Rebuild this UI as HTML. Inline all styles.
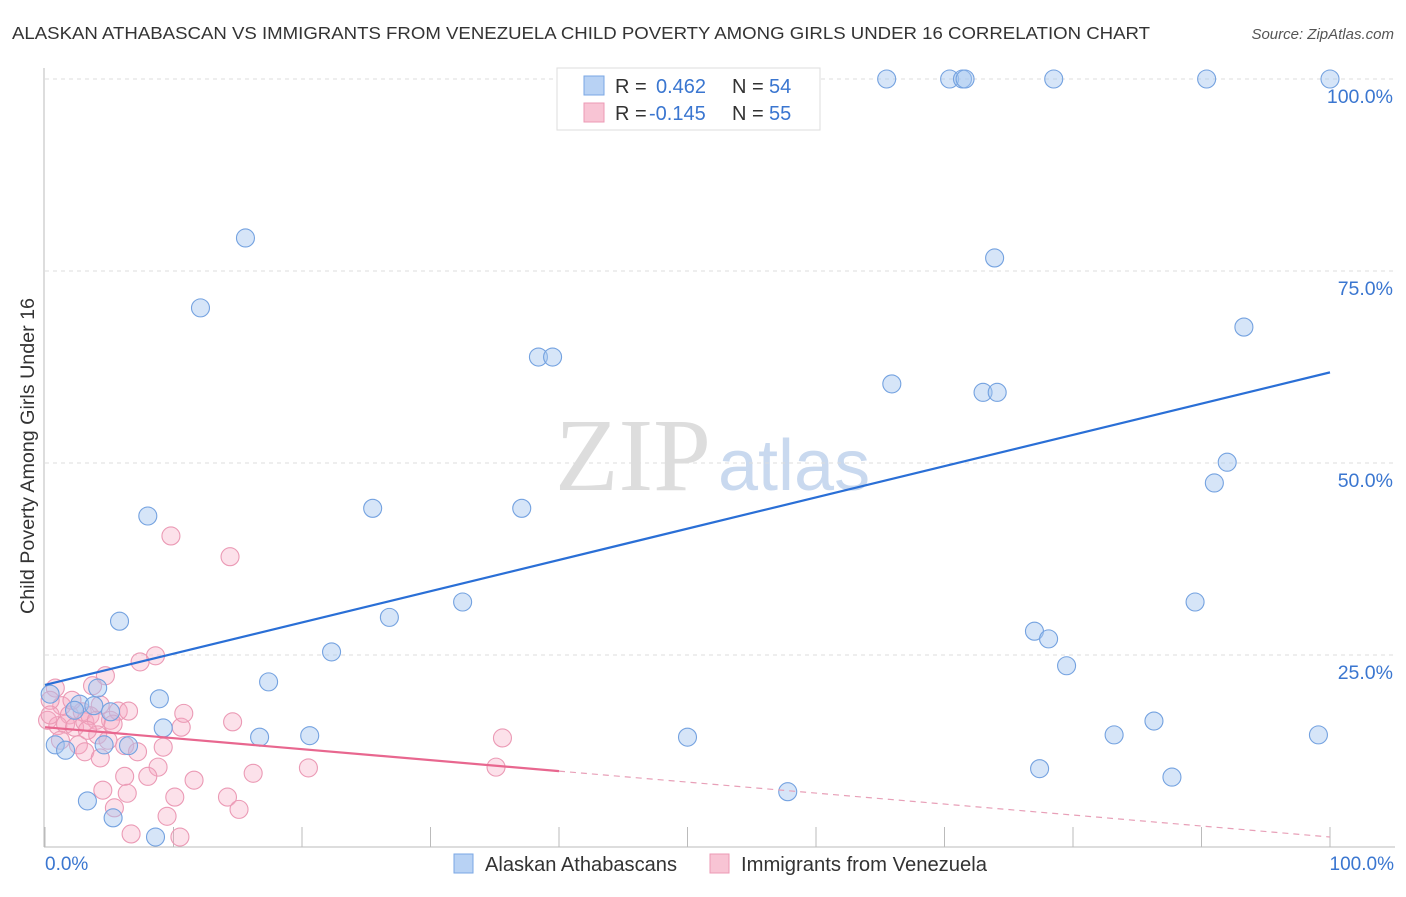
<!DOCTYPE html>
<html><head><meta charset="utf-8"><style>
body{margin:0;background:#fff;font-family:"Liberation Sans",sans-serif;}
</style></head><body>
<svg width="1406" height="892" viewBox="0 0 1406 892" xmlns="http://www.w3.org/2000/svg">
<text x="12" y="39" font-size="17.5" fill="#333" textLength="1138" lengthAdjust="spacingAndGlyphs">ALASKAN ATHABASCAN VS IMMIGRANTS FROM VENEZUELA CHILD POVERTY AMONG GIRLS UNDER 16 CORRELATION CHART</text>
<text x="1394" y="39" font-size="15" fill="#555" font-style="italic" text-anchor="end">Source: ZipAtlas.com</text>
<text x="555" y="490" font-size="104" fill="#ddd" font-family="Liberation Serif,serif">ZIP</text>
<text x="718" y="490" font-size="72" fill="#c9d9ef">atlas</text>
<g id="grid"></g>
<g id="axes"></g>
<g id="pts"></g>
<g id="trend"></g>
<text transform="translate(34,456) rotate(-90)" font-size="19" fill="#333" text-anchor="middle" textLength="316" lengthAdjust="spacingAndGlyphs">Child Poverty Among Girls Under 16</text>
<g>
<rect x="557" y="68" width="263" height="62" fill="#fff" stroke="#ddd"/>
<rect x="584" y="76" width="20" height="19" fill="#b8d2f4" stroke="#7aa7e4"/>
<rect x="584" y="103" width="20" height="19" fill="#f8c4d4" stroke="#ec9ab5"/>
<text x="615" y="93" font-size="20" fill="#333">R = </text><text x="656" y="93" font-size="20" fill="#3a76d0">0.462</text>
<text x="732" y="93" font-size="20" fill="#333">N = </text><text x="769" y="93" font-size="20" fill="#3a76d0">54</text>
<text x="615" y="120" font-size="20" fill="#333">R = </text><text x="649" y="120" font-size="20" fill="#3a76d0">-0.145</text>
<text x="732" y="120" font-size="20" fill="#333">N = </text><text x="769" y="120" font-size="20" fill="#3a76d0">55</text>
</g>
<g>
<rect x="454" y="854" width="19" height="19" fill="#b8d2f4" stroke="#7aa7e4"/>
<text x="485" y="871" font-size="20" fill="#333" textLength="192" lengthAdjust="spacingAndGlyphs">Alaskan Athabascans</text>
<rect x="710" y="854" width="19" height="19" fill="#f8c4d4" stroke="#ec9ab5"/>
<text x="741" y="871" font-size="20" fill="#333" textLength="246" lengthAdjust="spacingAndGlyphs">Immigrants from Venezuela</text>
</g>
<text x="45" y="870" font-size="19" fill="#3a76d0">0.0%</text>
<text x="1394" y="870" font-size="19" fill="#3a76d0" text-anchor="end">100.0%</text>
<script>
const blueX=[65.5,70.4,71.4,71.6,78.5,90.4,100,15.6,73.9,12.1,93.3,38.4,39.5,65.9,73.0,74.1,92.0,91.0,8.0,25.5,37.1,32.5,89.5,5.8,26.8,77.0,78.1,22.3,79.5,17.4,8.9,4.1,2.7,3.8,0.4,9.2,16.7,20.6,50.0,86.3,83.2,99.1,77.4,87.7,57.8,0.8,1.6,4.6,6.5,3.3,5.3,8.6,2.3,5.1];
const blueY=[100,100,100,100,100,100,100,79.3,76.7,70.2,67.7,63.8,63.8,60.3,59.2,59.2,50.1,47.4,43.1,44.1,44.1,31.9,31.9,29.4,29.9,28.1,27.1,25.4,23.6,21.5,19.3,20.7,18.6,18.4,19.9,15.5,14.3,14.5,14.3,16.4,14.6,14.6,10.2,9.1,7.2,13.3,12.6,13.3,13.2,6.0,3.8,1.3,17.8,17.6];
const pinkX=[9.8,14.4,8.6,7.4,0.8,3.7,4.7,1.3,0.4,1.9,2.9,4.3,5.1,5.7,6.5,0.2,1.0,1.6,2.3,3.1,3.5,4.0,2.6,4.1,4.9,5.3,3.1,4.3,6.2,7.2,10.6,10.8,9.2,14.6,8.8,6.2,8.0,4.5,6.4,11.6,5.4,10.1,14.2,15.1,9.5,16.2,20.5,35.6,35.1,6.7,10.5,0.4,1.2,3.3,2.1];
const pinkY=[40.5,37.8,24.9,24.1,20.7,21.0,22.3,18.4,19.1,17.2,17.6,18.5,16.5,17.7,17.7,16.5,15.8,16.0,15.6,16.3,17.1,16.5,13.3,14.6,13.9,16.0,12.4,11.6,13.2,12.4,15.6,17.4,13.0,16.3,10.4,9.2,9.2,7.4,7.0,8.7,5.1,6.5,6.5,4.9,4.0,9.6,10.3,14.2,10.4,1.7,1.3,17.2,13.9,15.2,19.1];
const yTicks=[25,50,75,100];
const yTickLabels=["25.0%","50.0%","75.0%","100.0%"];
const xTicks=[0,10,20,30,40,50,60,70,80,90,100];
const blueTrend=[21.1,61.8];
const pinkTrend=[15.6,1.3];
const pinkSolidEnd=40;
const NS="http://www.w3.org/2000/svg";
const sx=v=>45+v*12.85, sy=v=>847-v*7.68;
function mk(tag,attrs,parent){const e=document.createElementNS(NS,tag);for(const k in attrs)e.setAttribute(k,attrs[k]);document.getElementById(parent).appendChild(e);return e;}
yTicks.forEach((t,i)=>{
  const l=mk('line',{x1:45,x2:1395,y1:sy(t),y2:sy(t),stroke:'#ddd','stroke-dasharray':'4,4'},'grid');
  
  
  const tx=mk('text',{x:1393,y:sy(t)+24,'font-size':19.5,fill:'#3a76d0','text-anchor':'end'},'grid');
  tx.textContent=yTickLabels[i];
  
  
});
const ax=mk('line',{x1:44,x2:44,y1:68,y2:847,stroke:'#bbb'},'axes');


const bx=mk('line',{x1:44,x2:1395,y1:847,y2:847,stroke:'#bbb'},'axes');


xTicks.forEach(t=>{
  const l=mk('line',{x1:sx(t),x2:sx(t),y1:827,y2:847,stroke:'#bbb'},'axes');
  
  
});
pinkX.forEach((x,i)=>{
  const c=mk('circle',{cx:sx(x),cy:sy(pinkY[i]),r:9,fill:'rgba(246,170,196,0.35)',stroke:'#eb9ab5','stroke-width':1.1},'pts');
  
  
});
blueX.forEach((x,i)=>{
  const c=mk('circle',{cx:sx(x),cy:sy(blueY[i]),r:9,fill:'rgba(164,198,240,0.45)',stroke:'#74a2e0','stroke-width':1.1},'pts');
  
  
});
const bt=mk('line',{x1:sx(0),y1:sy(blueTrend[0]),x2:sx(100),y2:sy(blueTrend[1]),stroke:'#2a6fd6','stroke-width':2.2},'trend');


const pAt=v=>pinkTrend[0]+(pinkTrend[1]-pinkTrend[0])*v/100;
const pt=mk('line',{x1:sx(0),y1:sy(pinkTrend[0]),x2:sx(pinkSolidEnd),y2:sy(pAt(pinkSolidEnd)),stroke:'#e8678f','stroke-width':2.2},'trend');


const pd=mk('line',{x1:sx(pinkSolidEnd),y1:sy(pAt(pinkSolidEnd)),x2:sx(100),y2:sy(pinkTrend[1]),stroke:'#e8a0b8','stroke-width':1.2,'stroke-dasharray':'6,5'},'trend');


</script>
</svg>
</body></html>
